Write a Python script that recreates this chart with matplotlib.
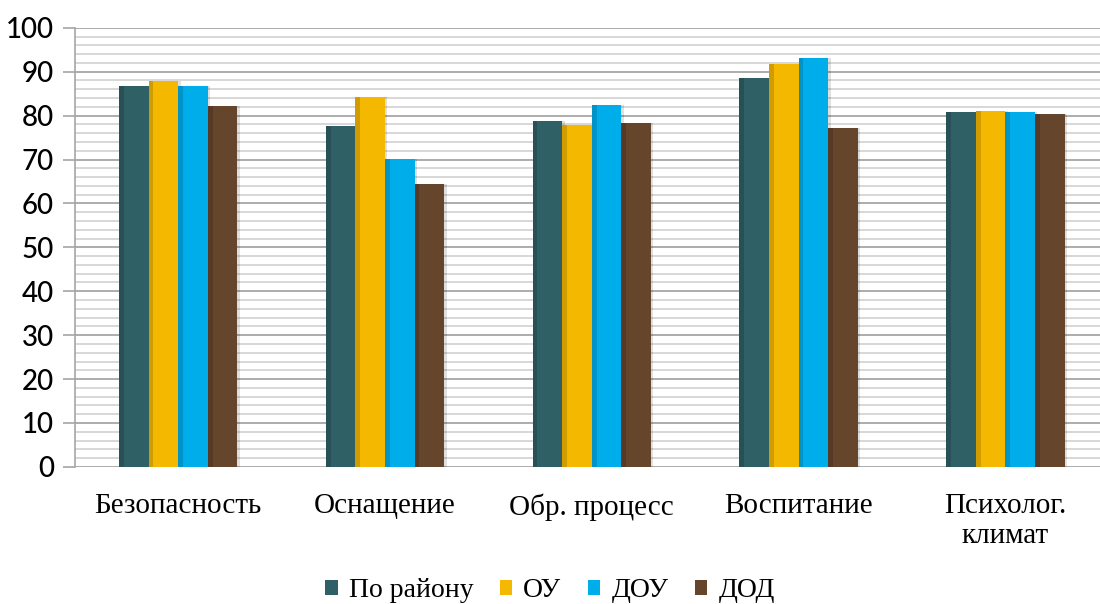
import numpy as np
import matplotlib.pyplot as plt
from matplotlib.ticker import MultipleLocator

categories = ['Безопасность', 'Оснащение', 'Обр. процесс', 'Воспитание', 'Психолог.\nклимат']
series_names = ['По району', 'ОУ', 'ДОУ', 'ДОД']
po_rayonu = [86.8, 77.7, 78.8, 88.6, 80.9]
ou = [87.9, 84.3, 77.9, 91.8, 81.1]
dou = [86.7, 70.2, 82.5, 93.2, 80.9]
dod = [82.2, 64.5, 78.4, 77.2, 80.4]
colors = ['#2E6066', '#F5B800', '#00ADEB', '#66452D']

fig = plt.figure(figsize=(11, 6.04), dpi=100)
ax = fig.add_axes([0.068, 0.227, 0.94, 0.727])

x = np.arange(len(categories))
w = 0.143
values = [po_rayonu, ou, dou, dod]
for i, (vals, c, name) in enumerate(zip(values, colors, series_names)):
    pos = x + (i - 1.5) * w
    # soft shadow
    ax.bar(pos + 0.012, vals, w, color='#000000', alpha=0.12, zorder=2)
    ax.bar(pos, vals, w, color=c, label=name, zorder=3, linewidth=0)
    # darker left edge for bevel look
    ax.bar(pos - w * 0.42, vals, w * 0.16, color='black', alpha=0.15, zorder=4, linewidth=0)

ax.set_xlim(-0.5, len(categories) - 0.5)
ax.set_ylim(0, 100)
ax.yaxis.set_major_locator(MultipleLocator(10))
ax.yaxis.set_minor_locator(MultipleLocator(2))
ax.grid(axis='y', which='major', color='#a6a6a6', linewidth=1.3, zorder=0)
ax.grid(axis='y', which='minor', color='#d4d4d4', linewidth=1.3, zorder=0)
ax.set_axisbelow(True)

for s in ['top', 'right', 'bottom']:
    ax.spines[s].set_visible(False)
ax.spines['left'].set_color('#a6a6a6')
ax.spines['left'].set_linewidth(1.2)

ax.tick_params(axis='y', which='major', length=9, color='#a6a6a6', width=1.2,
               labelsize=20, pad=6)
ax.tick_params(axis='y', which='minor', length=0)
ax.tick_params(axis='x', length=0, pad=19)
ax.set_xticks(x)
ax.set_xticklabels(categories, fontfamily='Liberation Serif', fontsize=21, linespacing=1.2,
                   va='top')
for lab in ax.get_yticklabels():
    lab.set_fontfamily('Lato')
    lab.set_fontweight('medium')

leg = fig.legend(loc='lower center', bbox_to_anchor=(0.5, -0.04), ncol=4, frameon=False,
                 prop={'family': 'Liberation Serif', 'size': 20},
                 handlelength=0.45, handleheight=0.45, handletextpad=0.4, columnspacing=0.95)

fig.savefig('out.png', dpi=100)
